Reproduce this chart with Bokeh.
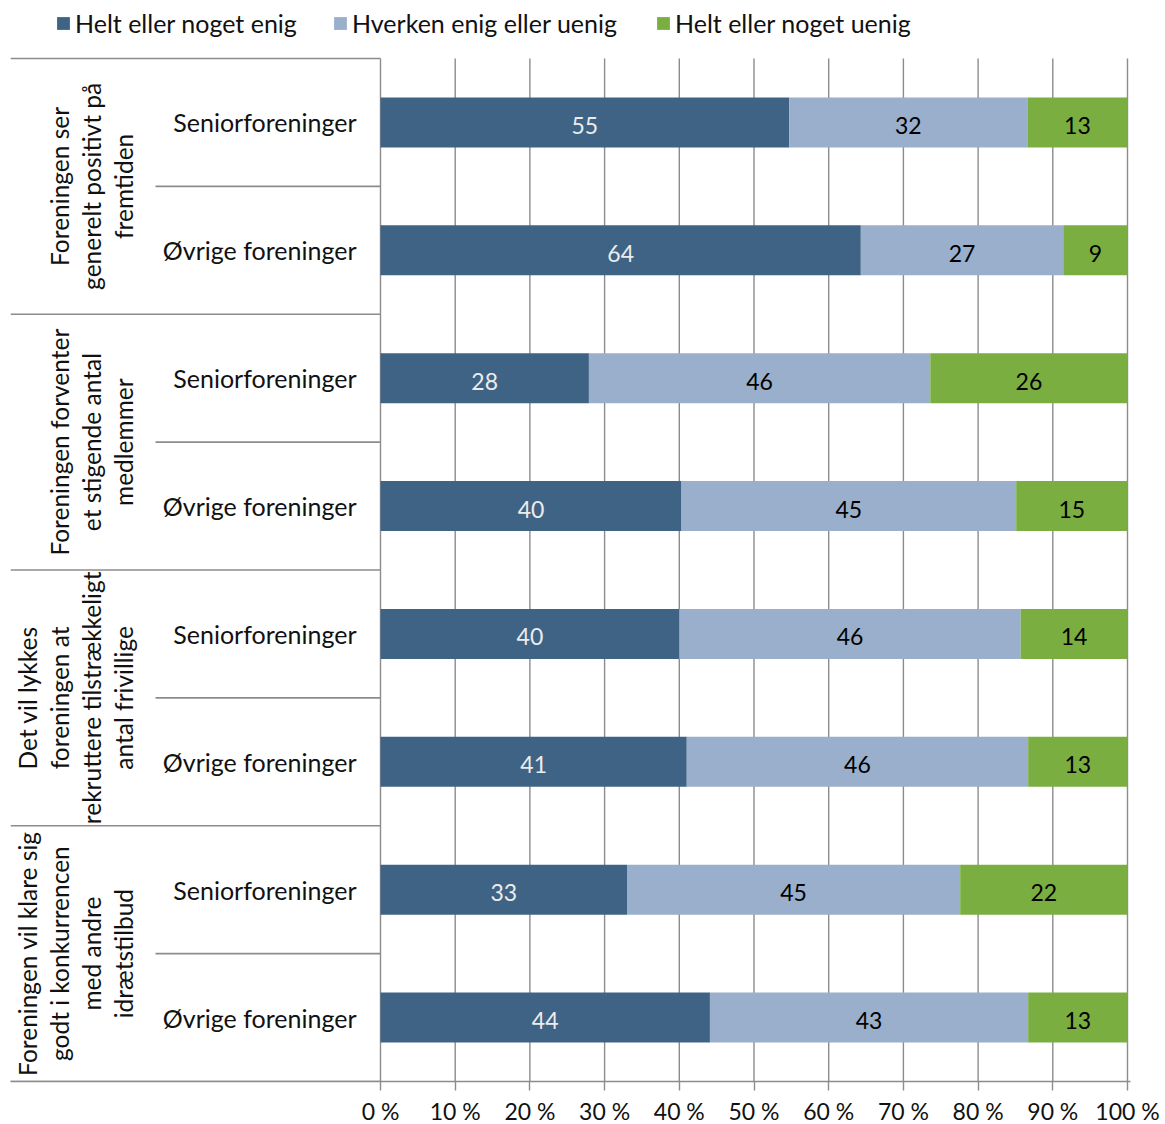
from bokeh.plotting import figure
from bokeh.models import Range1d, FixedTicker, PrintfTickFormatter, Legend, LegendItem, ColumnDataSource
from bokeh.core.properties import value
from bokeh.embed import file_html
from bokeh.resources import INLINE
import math

# ---------------- data ----------------
series = ["Helt eller noget enig", "Hverken enig eller uenig", "Helt eller noget uenig"]
colors = ["#3f6384", "#99afcb", "#7aae40"]
label_colors = ["#ececec", "#000000", "#000000"]

groups = [
    "Foreningen ser\ngenerelt positivt på\nfremtiden",
    "Foreningen forventer\net stigende antal\nmedlemmer",
    "Det vil lykkes\nforeningen at\nrekruttere tilstrækkeligt\nantal frivillige",
    "Foreningen vil klare sig\ngodt i konkurrencen\nmed andre\nidrætstilbud",
]
subgroups = ["Seniorforeninger", "Øvrige foreninger"]

enig = [54.7, 64.3, 27.9, 40.3, 40.0, 41.0, 33.0, 44.1]
hverken = [31.9, 27.1, 45.7, 44.8, 45.7, 45.7, 44.6, 42.6]
uenig = [13.4, 8.6, 26.4, 14.9, 14.3, 13.3, 22.4, 13.3]

x_ticks = [0, 10, 20, 30, 40, 50, 60, 70, 80, 90, 100]

# ---------------- layout helpers ----------------
FONT = "Lato"
PX = 7.47            # pixels per percent unit
ROW_PX = 127.875     # pixels per category row
AXIS_X = 380         # x of 0 % in page pixels
n_rows = len(enig)

def px_to_x(px):
    return (px - AXIS_X) / PX

x_start = px_to_x(10)
x_end = 100 + 3 / PX
y_end = n_rows + 50 / ROW_PX

p = figure(frame_width=1120, frame_height=1073,
           x_range=Range1d(x_start, x_end), y_range=Range1d(0, y_end),
           output_backend="svg", toolbar_location=None, y_axis_location=None,
           min_border_left=10, min_border_top=8, min_border_right=33, min_border_bottom=0)
p.xgrid.visible = False
p.ygrid.visible = False
p.outline_line_color = None
p.background_fill_color = "white"

GRID = "#8c8c8c"

# vertical grid lines
p.segment(x0=x_ticks, y0=[0] * len(x_ticks), x1=x_ticks, y1=[n_rows] * len(x_ticks),
          line_color=GRID, line_width=1.4)

# separators of the category area
grp_y = [n_rows - 2 * g for g in range(len(groups) + 1)]
p.segment(x0=[x_start] * len(grp_y), y0=grp_y, x1=[0] * len(grp_y), y1=grp_y,
          line_color=GRID, line_width=1.6)
sub_y = [n_rows - 2 * g - 1 for g in range(len(groups))]
p.segment(x0=[px_to_x(155)] * len(sub_y), y0=sub_y, x1=[0] * len(sub_y), y1=sub_y,
          line_color=GRID, line_width=1.6)

# bars
ys = [n_rows - i - 0.5 for i in range(n_rows)]
vals = [enig, hverken, uenig]
renderers = []
left = [0.0] * n_rows
tx, ty, tt, tc = [], [], [], []
for s, v in enumerate(vals):
    right = [l + x for l, x in zip(left, v)]
    src = ColumnDataSource(dict(y=ys, left=left, right=right))
    r = p.hbar(y="y", left="left", right="right", height=50 / ROW_PX, source=src,
               fill_color=colors[s], line_color=None)
    renderers.append(r)
    for i in range(n_rows):
        tx.append((left[i] + right[i]) / 2)
        ty.append(ys[i])
        tt.append(f"{v[i]:.0f}")
        tc.append(label_colors[s])
    left = right

p.text(x=tx, y=ty, text=tt, text_color=tc, text_align="center", text_baseline="middle",
       y_offset=3, text_font=value(FONT), text_font_size="23px")

# subgroup labels
sx, sy, st = [], [], []
for i in range(n_rows):
    sx.append(px_to_x(356))
    sy.append(ys[i])
    st.append(subgroups[i % 2])
p.text(x=sx, y=sy, text=st, text_align="right", text_baseline="middle",
       text_color="#111111", text_font=value(FONT), text_font_size="25px")

# group labels (rotated)
gx, gy, gt = [], [], []
for g, lab in enumerate(groups):
    lines = lab.split("\n")
    n = len(lines)
    for k, line in enumerate(lines):
        gx.append(px_to_x(123 - 32 * (n - 1 - k)))
        gy.append(n_rows - 2 * g - 1)
        gt.append(line)
p.text(x=gx, y=gy, text=gt, angle=math.pi / 2, text_align="center", text_baseline="middle",
       text_color="#111111", text_font=value(FONT), text_font_size="24.5px")

# x axis
ax = p.xaxis[0]
ax.ticker = FixedTicker(ticks=x_ticks)
ax.formatter = PrintfTickFormatter(format="%d %%")
ax.axis_line_color = GRID
ax.axis_line_width = 1.6
ax.major_tick_line_color = GRID
ax.major_tick_line_width = 1.4
ax.major_tick_out = 9
ax.major_tick_in = 0
ax.minor_tick_line_color = None
ax.major_label_standoff = 6
ax.major_label_text_font = FONT
ax.major_label_text_font_size = "23px"
ax.major_label_text_color = "#111111"

# legends
legend_x = [45, 322, 645]
for r, name, lx in zip(renderers, series, legend_x):
    lg = Legend(items=[LegendItem(label=name, renderers=[r])], location=(lx, 1043),
                orientation="horizontal", glyph_width=16, glyph_height=16,
                label_text_font=FONT, label_text_font_size="25px", label_text_color="#111111",
                label_standoff=4, padding=0, margin=0, spacing=0,
                border_line_color=None, background_fill_alpha=0)
    p.add_layout(lg)

open("out.html", "w").write(file_html(p, INLINE))
